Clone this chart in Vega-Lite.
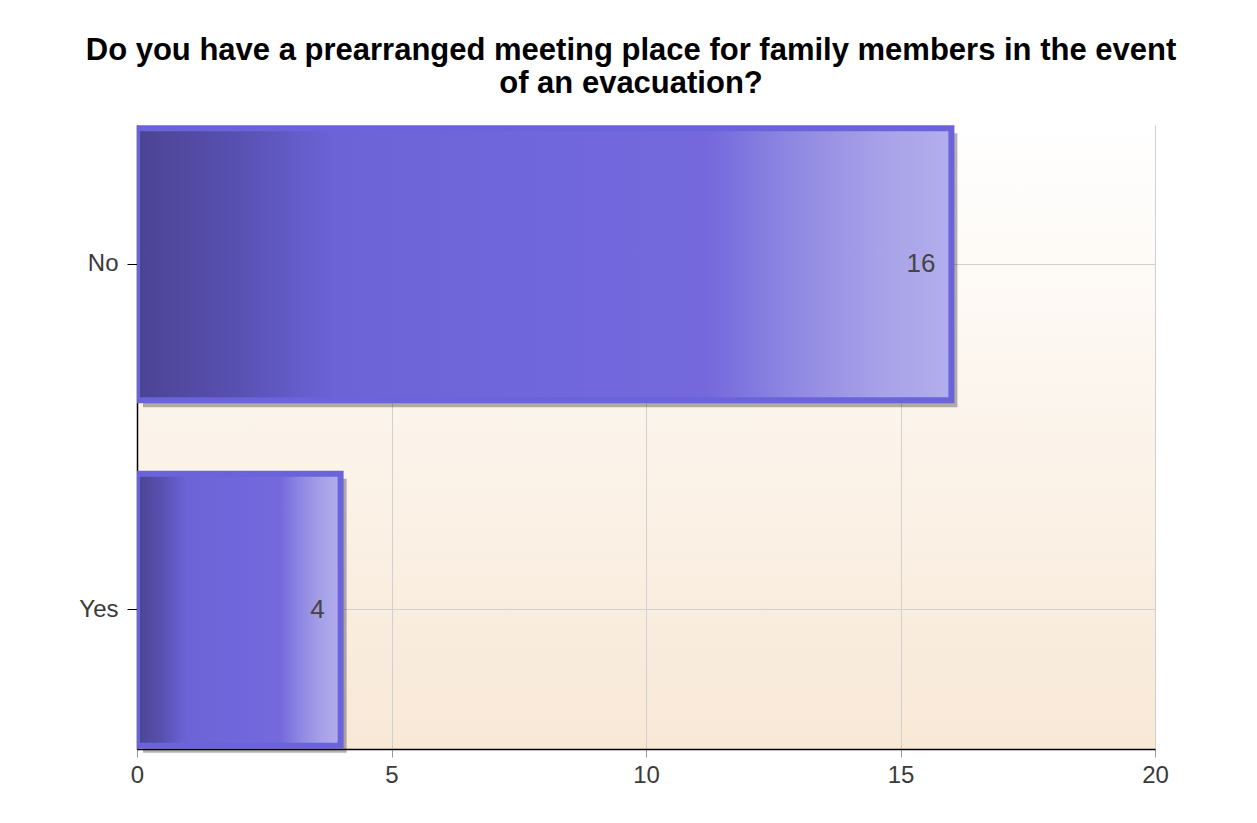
{
  "$schema": "https://vega.github.io/schema/vega-lite/v6.json",
  "width": 1018,
  "height": 624,
  "autosize": {"type": "none"},
  "padding": {"left": 137, "top": 125, "right": 102, "bottom": 74},
  "background": "white",
  "title": {
    "text": ["Do you have a prearranged meeting place for family members in the event", "of an evacuation?"],
    "font": "Liberation Sans",
    "fontSize": 31,
    "fontWeight": "bold",
    "color": "#000000",
    "anchor": "middle",
    "dx": -15,
    "offset": 25,
    "lineHeight": 33
  },
  "config": {
    "view": {
      "stroke": null,
      "fill": {
        "gradient": "linear",
        "x1": 0, "y1": 0, "x2": 0, "y2": 1,
        "stops": [
          {"offset": 0, "color": "#FFFFFF"},
          {"offset": 1, "color": "#F8E8D6"}
        ]
      }
    },
    "axis": {
      "labelFont": "Liberation Sans",
      "labelFontSize": 24,
      "labelColor": "#3A3A3A",
      "domainColor": "#000000",
      "domainWidth": 1.5,
      "gridColor": "#D0D0D0",
      "gridWidth": 1,
      "title": null
    }
  },
  "data": {
    "values": [
      {"answer": "No", "count": 16},
      {"answer": "Yes", "count": 4}
    ]
  },
  "encoding": {
    "y": {
      "field": "answer",
      "type": "nominal",
      "sort": ["No", "Yes"],
      "scale": {"paddingInner": 0.194, "paddingOuter": 0},
      "axis": {
        "grid": true,
        "bandPosition": 0.5,
        "tickColor": "#000000",
        "tickSize": 10,
        "labelPadding": 9,
        "title": null
      }
    },
    "x": {
      "field": "count",
      "type": "quantitative",
      "scale": {"domain": [0, 20], "nice": false},
      "axis": {
        "values": [0, 5, 10, 15, 20],
        "grid": true,
        "labelFlush": false,
        "tickColor": "#999999",
        "tickSize": 8,
        "labelPadding": 6,
        "title": null
      }
    }
  },
  "layer": [
    {
      "mark": {
        "type": "bar",
        "fill": "#000000",
        "opacity": 0.3,
        "size": 274,
        "xOffset": 6,
        "yOffset": 6
      }
    },
    {
      "mark": {
        "type": "bar",
        "size": 272,
        "clip": true,
        "stroke": "#6B63D9",
        "strokeWidth": 6,
        "fill": {
          "gradient": "linear",
          "x1": 0, "y1": 0, "x2": 1, "y2": 0,
          "stops": [
            {"offset": 0, "color": "#4B4493"},
            {"offset": 0.12, "color": "#5850B0"},
            {"offset": 0.24, "color": "#6B63D6"},
            {"offset": 0.5, "color": "#7167DC"},
            {"offset": 0.7, "color": "#7468DC"},
            {"offset": 0.8, "color": "#8E87E2"},
            {"offset": 0.91, "color": "#A7A1E8"},
            {"offset": 1, "color": "#B3AEEC"}
          ]
        }
      }
    },
    {
      "mark": {
        "type": "text",
        "align": "right",
        "baseline": "middle",
        "dx": -16,
        "font": "Liberation Sans",
        "fontSize": 26,
        "color": "#444444"
      },
      "encoding": {
        "text": {"field": "count", "type": "quantitative"}
      }
    }
  ]
}
